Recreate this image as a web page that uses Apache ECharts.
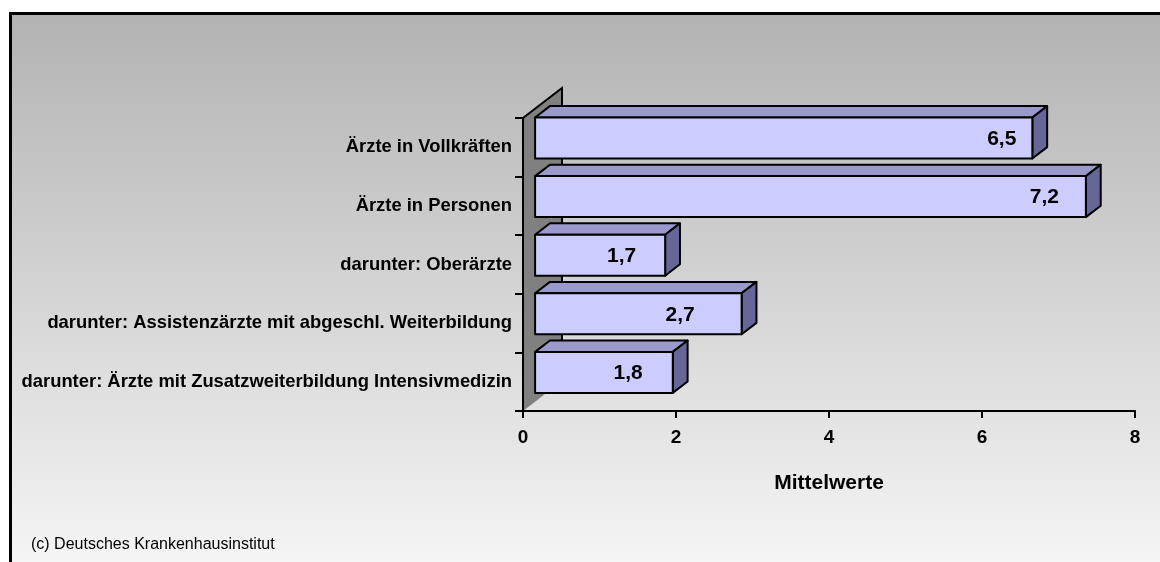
<!DOCTYPE html>
<html>
<head>
<meta charset="utf-8">
<script src="https://cdn.jsdelivr.net/npm/echarts@6/dist/echarts.min.js"></script>
<style>
html,body{margin:0;padding:0;background:#fff;}
#chart{width:1160px;height:562px;}
</style>
</head>
<body>
<div id="chart"></div>
<script>
const categories = [
  'Ärzte in Vollkräften',
  'Ärzte in Personen',
  'darunter: Oberärzte',
  'darunter: Assistenzärzte mit abgeschl. Weiterbildung',
  'darunter: Ärzte mit Zusatzweiterbildung Intensivmedizin'
];
const values = [6.5, 7.2, 1.7, 2.7, 1.8];
const axisMin = 0;
const axisMax = 8;
const axisInterval = 2;
const axisName = 'Mittelwerte';
const footer = '(c) Deutsches Krankenhausinstitut';

// styling (not data)
const labelInset = [16, 27, 29, 47, 30];
const FONT = '"Liberation Sans", Arial, Helvetica, sans-serif';
const WALL = [39, -30];
const FRONT_F = 0.31, BACK_F = 0.69;

const chart = echarts.init(document.getElementById('chart'), null, {renderer: 'canvas'});

function fmt(v) { return v.toFixed(1).replace('.', ','); }

const option = {
  animation: false,
  textStyle: {fontFamily: FONT},
  graphic: [
    {
      type: 'rect', z: -100,
      shape: {x: 10.5, y: 13.5, width: 1200, height: 600},
      style: {
        stroke: '#000', lineWidth: 3,
        fill: new echarts.graphic.LinearGradient(0, 0, 0, 1, [
          {offset: 0, color: '#b2b2b2'},
          {offset: 1, color: '#fbfbfb'}
        ])
      }
    },
    {
      type: 'text', z: 10, left: 31, top: 537,
      style: {text: footer, fontSize: 16, fontFamily: FONT, fill: '#000'}
    }
  ],
  grid: {left: 523, top: 118, width: 612, height: 293, containLabel: false},
  xAxis: {
    type: 'value', min: axisMin, max: axisMax, interval: axisInterval, z: 5,
    splitLine: {show: false},
    axisLine: {show: true, lineStyle: {color: '#000', width: 2}},
    axisTick: {show: true, length: 7, lineStyle: {color: '#000', width: 2}},
    axisLabel: {fontSize: 19, fontWeight: 'bold', color: '#000', margin: 17, fontFamily: FONT},
    name: axisName, nameLocation: 'middle', nameGap: 62,
    nameTextStyle: {fontSize: 21, fontWeight: 'bold', color: '#000', fontFamily: FONT}
  },
  yAxis: {
    type: 'category', data: categories, inverse: true, z: 5,
    axisLine: {show: true, lineStyle: {color: '#000', width: 2}},
    axisTick: {show: true, length: 8, lineStyle: {color: '#000', width: 2}},
    axisLabel: {fontSize: 18.4, fontWeight: 'bold', color: '#000', margin: 11, fontFamily: FONT},
    splitLine: {show: false}
  },
  series: [
    {
      type: 'custom', z: 1, silent: true,
      data: [[0, 0]],
      encode: {x: 0, y: 1},
      renderItem: function (params, api) {
        const cs = params.coordSys;
        const x = cs.x, y = cs.y, h = cs.height;
        return {
          type: 'group',
          children: [
            {
              type: 'polygon',
              shape: {points: [[x, y + h], [x, y], [x + WALL[0], y + WALL[1]], [x + WALL[0], y + h + WALL[1]]]},
              style: {fill: '#808080', stroke: null}
            },
            {
              type: 'polyline',
              shape: {points: [[x, y + h], [x, y], [x + WALL[0], y + WALL[1]], [x + WALL[0], y + h + WALL[1]]]},
              style: {stroke: '#000', lineWidth: 2, fill: null}
            }
          ]
        };
      }
    },
    {
      type: 'custom', z: 4, silent: true,
      data: values.map((v, i) => [v, i]),
      encode: {x: 0, y: 1},
      renderItem: function (params, api) {
        const v = api.value(0), i = api.value(1);
        const p0 = api.coord([0, i]);
        const p1 = api.coord([v, i]);
        const band = api.size([0, 1])[1];
        const bh = band * 0.7;
        const fx = WALL[0] * FRONT_F, fy = WALL[1] * FRONT_F;
        const dx = WALL[0] * (BACK_F - FRONT_F), dy = WALL[1] * (BACK_F - FRONT_F);
        const x0 = p0[0] + fx, x1 = p1[0] + fx;
        const yc = p0[1] + fy;
        const yt = yc - bh / 2, yb = yc + bh / 2;
        const st = {stroke: '#000', lineWidth: 2, lineJoin: 'round'};
        return {
          type: 'group',
          children: [
            {type: 'polygon', shape: {points: [[x0, yt], [x1, yt], [x1 + dx, yt + dy], [x0 + dx, yt + dy]]},
             style: Object.assign({fill: '#9999cc'}, st)},
            {type: 'polygon', shape: {points: [[x1, yt], [x1 + dx, yt + dy], [x1 + dx, yb + dy], [x1, yb]]},
             style: Object.assign({fill: '#666699'}, st)},
            {type: 'rect', shape: {x: x0, y: yt, width: x1 - x0, height: bh},
             style: Object.assign({fill: '#ccccff'}, st)},
            {type: 'text', style: {
              text: fmt(v), x: x1 - labelInset[i], y: yc + 1,
              align: 'right', verticalAlign: 'middle',
              textAlign: 'right', textVerticalAlign: 'middle',
              fontSize: 21, fontWeight: 'bold', fontFamily: FONT, fill: '#000'
            }}
          ]
        };
      }
    }
  ]
};
chart.setOption(option);
</script>
</body>
</html>
